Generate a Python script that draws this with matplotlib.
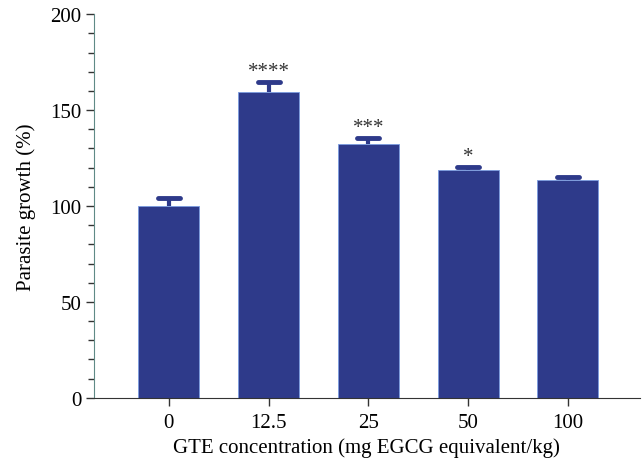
import matplotlib
matplotlib.use("Agg")
import matplotlib.pyplot as plt
from matplotlib.ticker import MultipleLocator

categories = ["0", "12.5", "25", "50", "100"]
values = [100, 159.5, 132.3, 118.7, 113.3]
errors = [4, 5, 3, 1.5, 1.7]
stars = ["", "****", "***", "*", ""]

plt.rcParams['font.family'] = ['Liberation Serif', 'DejaVu Serif']

fig = plt.figure(figsize=(6.43, 4.60), dpi=100)
ax = fig.add_axes([0.146, 0.133, 0.849, 0.834])

bar_color = "#2E3A8A"
x = list(range(len(categories)))
ax.bar(x, values, width=0.61, color=bar_color, edgecolor="#7A9BE0", linewidth=0.6, zorder=2)
tops = [v + e for v, e in zip(values, errors)]
ax.vlines(x, values, tops, colors=bar_color, linewidth=3, zorder=3)
for xi, t in zip(x, tops):
    ax.plot([xi - 0.11, xi + 0.11], [t, t], color=bar_color, linewidth=3.5,
            solid_capstyle="round", zorder=3)
for xi, t, s in zip(x, tops, stars):
    if s:
        ax.text(xi, t + 0.8, s, ha="center", va="bottom", fontsize=15, color="#333333")

ax.set_xlim(-0.75, 4.72)
ax.set_ylim(0, 200)
ax.yaxis.set_major_locator(MultipleLocator(50))
ax.yaxis.set_minor_locator(MultipleLocator(10))
ax.set_xticks(x)
ax.set_xticklabels(categories)

axis_color = "#5F8A86"
for side in ["top", "right"]:
    ax.spines[side].set_visible(False)
ax.spines["left"].set_color(axis_color)
ax.spines["bottom"].set_color("#333333")
ax.tick_params(axis="y", which="major", length=6, width=1, color="#333333", labelsize=15, pad=3)
ax.tick_params(axis="y", which="minor", length=4, width=1, color="#333333")
ax.tick_params(axis="x", which="major", length=6, width=1, color="#333333", labelsize=15, pad=5)

ax.set_ylabel("Parasite growth (%)", fontsize=15, labelpad=10)
ax.set_xlabel("GTE concentration (mg EGCG equivalent/kg)", fontsize=15, labelpad=4)

fig.savefig("out.png", dpi=100)
